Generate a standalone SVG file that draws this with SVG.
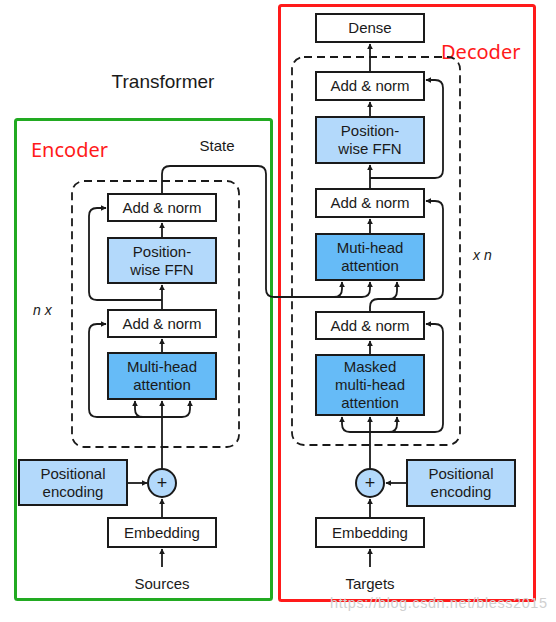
<svg xmlns="http://www.w3.org/2000/svg" width="556" height="622" viewBox="0 0 556 622">
<defs>
<marker id="ah" viewBox="0 0 10 10" refX="9" refY="5" markerWidth="6" markerHeight="6" orient="auto" markerUnits="userSpaceOnUse">
<path d="M0,0 L10,5 L0,10 Z" fill="#1a1a1a"/>
</marker>
<style>
.box{stroke:#1a1a1a;stroke-width:2;}
.w{fill:#ffffff;}
.lb{fill:#b3d9fb;}
.db{fill:#66bbf7;}
.t{font-family:"Liberation Sans",Arial,sans-serif;font-size:15px;fill:#1a1a1a;text-anchor:middle;}
.c{fill:none;stroke:#1a1a1a;stroke-width:1.8;}
.a{marker-end:url(#ah);}
.dash{fill:none;stroke:#1a1a1a;stroke-width:1.8;stroke-dasharray:8,5;}
.lab{font-family:"Noto Sans","DejaVu Sans",sans-serif;font-size:20px;fill:#ff1a1a;}
.it{font-family:"Liberation Sans",Arial,sans-serif;font-size:14px;font-style:italic;fill:#1a1a1a;}
</style>
</defs>
<rect width="556" height="622" fill="#ffffff"/>

<g id="encoder-frame">
<rect x="15.5" y="119.5" width="256" height="480" fill="none" stroke="#22aa22" stroke-width="3" rx="2"/>
<text class="lab" x="31" y="157">Encoder</text>
</g>
<g id="decoder-frame">
<rect x="279.5" y="5.5" width="255" height="595" fill="none" stroke="#ff1a1a" stroke-width="3" rx="2"/>
<text class="lab" x="441" y="59">Decoder</text>
</g>
<text x="163" y="88" font-family="Liberation Sans,Arial,sans-serif" font-size="19" fill="#1a1a1a" text-anchor="middle">Transformer</text>
<text class="t" x="217" y="151">State</text>
<text class="it" x="33" y="315">n x</text>
<text class="it" x="473" y="260">x n</text>

<rect class="dash" x="72" y="181" width="167" height="266" rx="12"/>
<rect class="dash" x="292" y="57" width="168" height="388" rx="12"/>

<g id="connectors">
<!-- encoder -->
<path class="c a" d="M162,567 V549"/>
<path class="c a" d="M162,518 V499"/>
<path class="c a" d="M127,483 H147"/>
<path class="c a" d="M162,469 V401"/>
<path class="c a" d="M162,417 H97 Q89,417 89,409 V332 Q89,324 97,324 H106"/>
<path class="c a" d="M162,417 H143 Q135,417 135,409 V401"/>
<path class="c a" d="M162,417 H182 Q190,417 190,409 V401"/>
<path class="c a" d="M162,353 V339"/>
<path class="c a" d="M162,310 V285"/>
<path class="c a" d="M162,300 H97 Q89,300 89,292 V216 Q89,208 97,208 H106"/>
<path class="c a" d="M162,238 V223"/>
<!-- state -->
<path class="c a" d="M162,194 V174 Q162,166 170,166 H258 Q266,166 266,174 V289 Q266,297 274,297 H334 Q342,297 342,289 V282"/>
<path class="c a" d="M334,297 H362 Q370,297 370,289 V282"/>
<!-- decoder -->
<path class="c a" d="M370,567 V549"/>
<path class="c a" d="M370,518 V499"/>
<path class="c a" d="M407,483 H386"/>
<path class="c a" d="M370,469 V417"/>
<path class="c a" d="M370,432 H350 Q342,432 342,424 V417"/>
<path class="c a" d="M370,432 H389 Q397,432 397,424 V417"/>
<path class="c a" d="M389,432 H435 Q443,432 443,424 V332 Q443,324 435,324 H426"/>
<path class="c a" d="M370,355 V341"/>
<path class="c a" d="M370,312 V307 Q370,299 378,299 H389 Q397,299 397,291 V282"/>
<path class="c a" d="M389,299 H435 Q443,299 443,291 V209 Q443,201 435,201 H426"/>
<path class="c a" d="M370,234 V219"/>
<path class="c a" d="M370,189 V165"/>
<path class="c a" d="M370,178 H435 Q443,178 443,170 V88 Q443,80 435,80 H426"/>
<path class="c a" d="M370,117 V102"/>
<path class="c a" d="M370,72 V44"/>
</g>

<g id="enc-embedding"><rect class="box w" x="108" y="518" width="108" height="29"/><text class="t" x="162" y="538">Embedding</text></g>
<g id="enc-plus"><circle class="box lb" cx="162" cy="483" r="14"/><text class="t" x="162" y="489" style="font-size:18px">+</text></g>
<g id="enc-posenc"><rect class="box lb" x="19" y="460" width="108" height="45"/><text class="t" x="73" y="479">Positional</text><text class="t" x="73" y="497">encoding</text></g>
<g id="enc-mha"><rect class="box db" x="108" y="353" width="108" height="46"/><text class="t" x="162" y="372">Multi-head</text><text class="t" x="162" y="390">attention</text></g>
<g id="enc-addnorm1"><rect class="box w" x="108" y="310" width="108" height="27"/><text class="t" x="162" y="329">Add &amp; norm</text></g>
<g id="enc-ffn"><rect class="box lb" x="108" y="238" width="108" height="45"/><text class="t" x="162" y="257">Position-</text><text class="t" x="162" y="275">wise FFN</text></g>
<g id="enc-addnorm2"><rect class="box w" x="108" y="194" width="108" height="27"/><text class="t" x="162" y="213">Add &amp; norm</text></g>
<text class="t" x="162" y="589">Sources</text>

<g id="dec-embedding"><rect class="box w" x="316" y="518" width="108" height="29"/><text class="t" x="370" y="538">Embedding</text></g>
<g id="dec-plus"><circle class="box lb" cx="370" cy="483" r="14"/><text class="t" x="370" y="489" style="font-size:18px">+</text></g>
<g id="dec-posenc"><rect class="box lb" x="407" y="460" width="108" height="46"/><text class="t" x="461" y="479">Positional</text><text class="t" x="461" y="497">encoding</text></g>
<g id="dec-masked"><rect class="box db" x="316" y="355" width="108" height="60"/><text class="t" x="370" y="372">Masked</text><text class="t" x="370" y="390">multi-head</text><text class="t" x="370" y="408">attention</text></g>
<g id="dec-addnorm1"><rect class="box w" x="316" y="312" width="108" height="27"/><text class="t" x="370" y="331">Add &amp; norm</text></g>
<g id="dec-mha"><rect class="box db" x="316" y="234" width="108" height="46"/><text class="t" x="370" y="253">Muti-head</text><text class="t" x="370" y="271">attention</text></g>
<g id="dec-addnorm2"><rect class="box w" x="316" y="189" width="108" height="28"/><text class="t" x="370" y="208">Add &amp; norm</text></g>
<g id="dec-ffn"><rect class="box lb" x="316" y="117" width="108" height="46"/><text class="t" x="370" y="136">Position-</text><text class="t" x="370" y="154">wise FFN</text></g>
<g id="dec-addnorm3"><rect class="box w" x="316" y="72" width="108" height="28"/><text class="t" x="370" y="91">Add &amp; norm</text></g>
<g id="dense"><rect class="box w" x="316" y="14" width="108" height="28"/><text class="t" x="370" y="33">Dense</text></g>
<text class="t" x="370" y="589">Targets</text>

<text x="330" y="608" font-family="Liberation Sans,Arial,sans-serif" font-size="14.5" fill="#d0d0d0" textLength="217">https://blog.csdn.net/bless2015</text>
</svg>
